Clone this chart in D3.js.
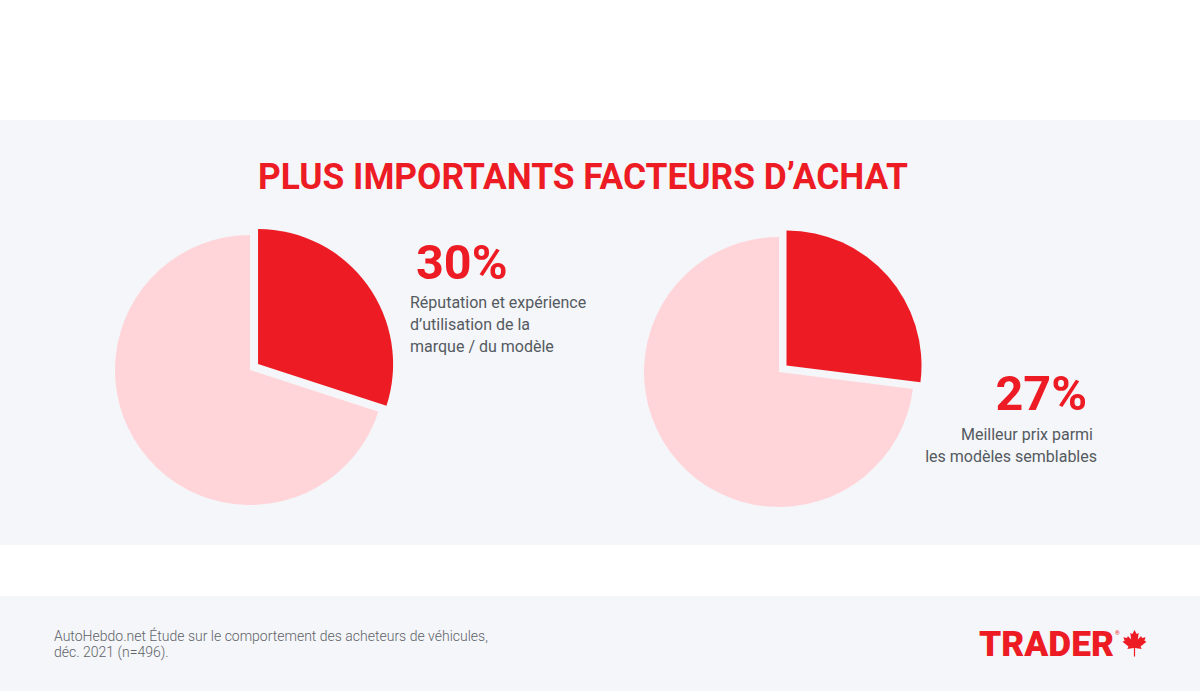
<!DOCTYPE html>
<html>
<head>
<meta charset="utf-8">
<script src="https://cdn.jsdelivr.net/npm/d3@7"></script>
<style>
  html, body { margin: 0; padding: 0; background: #fff; }
  svg { display: block; font-family: Roboto, "Noto Sans", sans-serif; }
</style>
</head>
<body>
<svg id="chart" width="1200" height="691"></svg>
<script>
// data
var titleText = "PLUS IMPORTANTS FACTEURS D\u2019ACHAT";
var shares = [30, 27];
var shareLabels = [
  ["R\u00e9putation et exp\u00e9rience", "d\u2019utilisation de la", "marque / du mod\u00e8le"],
  ["Meilleur prix parmi", "les mod\u00e8les semblables"]
];
var sourceLines = [
  "AutoHebdo.net \u00c9tude sur le comportement des acheteurs de v\u00e9hicules,",
  "d\u00e9c. 2021 (n=496)."
];

var RED = "#ed1c24", PINK = "#ffd5d9", BAND = "#f4f6fa", GREY_TXT = "#555a5f";

var svg = d3.select("#chart");

// background bands
svg.append("rect").attr("x", 0).attr("y", 120).attr("width", 1200).attr("height", 425).attr("fill", BAND);
svg.append("rect").attr("x", 0).attr("y", 596).attr("width", 1200).attr("height", 95).attr("fill", BAND);

svg.append("text")
  .attr("x", 583).attr("y", 189)
  .attr("text-anchor", "middle")
  .attr("font-size", 36).attr("font-weight", 700)
  .attr("textLength", 650).attr("lengthAdjust", "spacingAndGlyphs")
  .attr("fill", RED)
  .text(titleText);

var radius = 135;
var explode = 10;
var pie = d3.pie().sort(null).startAngle(0).endAngle(2 * Math.PI);
var arc = d3.arc().innerRadius(0).outerRadius(radius);

var pieCenters = [[250, 370], [779, 372]];

shares.forEach(function (v, i) {
  var g = svg.append("g")
    .attr("transform", "translate(" + pieCenters[i][0] + " " + pieCenters[i][1] + ")");

  var arcs = pie([v, 100 - v]);

  g.selectAll("path")
    .data(arcs)
    .enter().append("path")
    .attr("d", arc)
    .attr("fill", function (d, j) { return j === 0 ? RED : PINK; })
    .attr("transform", function (d, j) {
      if (j !== 0) return null;
      // pull the highlighted slice out along its mid angle
      var a = (d.startAngle + d.endAngle) / 2;
      return "translate(" + (Math.sin(a) * explode) + " " + (-Math.cos(a) * explode) + ")";
    });
});

// labels
var lab1 = svg.append("g");
lab1.append("text")
  .attr("x", 416).attr("y", 279)
  .attr("font-size", 48.5).attr("font-weight", 700).attr("fill", RED)
  .text(shares[0] + "%");
lab1.selectAll("text.desc")
  .data(shareLabels[0])
  .enter().append("text")
  .attr("class", "desc")
  .attr("x", 410)
  .attr("y", function (d, i) { return 308 + i * 22; })
  .attr("font-size", 16).attr("fill", GREY_TXT)
  .text(function (d) { return d; });

var lab2 = svg.append("g");
lab2.append("text")
  .attr("x", 1087).attr("y", 410)
  .attr("text-anchor", "end")
  .attr("font-size", 48.5).attr("font-weight", 700).attr("fill", RED)
  .text(shares[1] + "%");
lab2.selectAll("text.desc")
  .data(shareLabels[1])
  .enter().append("text")
  .attr("class", "desc")
  .attr("x", function (d, i) { return i === 0 ? 1093 : 1097; })
  .attr("y", function (d, i) { return 440 + i * 22; })
  .attr("text-anchor", "end")
  .attr("font-size", 16).attr("fill", GREY_TXT)
  .text(function (d) { return d; });

// source note
svg.selectAll("text.src")
  .data(sourceLines)
  .enter().append("text")
  .attr("class", "src")
  .attr("x", 54)
  .attr("y", function (d, i) { return 641 + i * 15.5; })
  .attr("font-size", 14).attr("font-weight", 300).attr("fill", "#5f6368")
  .text(function (d) { return d; });

// logo
var logo = svg.append("g");
logo.append("text")
  .attr("x", 979).attr("y", 656)
  .attr("font-size", 35).attr("font-weight", 900)
  .attr("fill", RED)
  .attr("textLength", 135).attr("lengthAdjust", "spacingAndGlyphs")
  .text("TRADER");
logo.append("text")
  .attr("x", 1115).attr("y", 635)
  .attr("font-size", 6).attr("fill", RED)
  .text("\u00ae");

var leaf = [[50,0],[43,13],[36,10],[39,32],[28,20],[25,27],[13,24],[17,36],[10,39],[30,55],[26,63],
  [48,60],[48,88],[52,88],[52,60],[74,63],[70,55],[90,39],[83,36],[87,24],[75,27],[72,20],[61,32],[64,10],[57,13]];
logo.append("path")
  .attr("transform", "translate(1119.5 630) scale(0.3)")
  .attr("d", d3.line()(leaf) + "Z")
  .attr("fill", RED);
</script>
</body>
</html>
